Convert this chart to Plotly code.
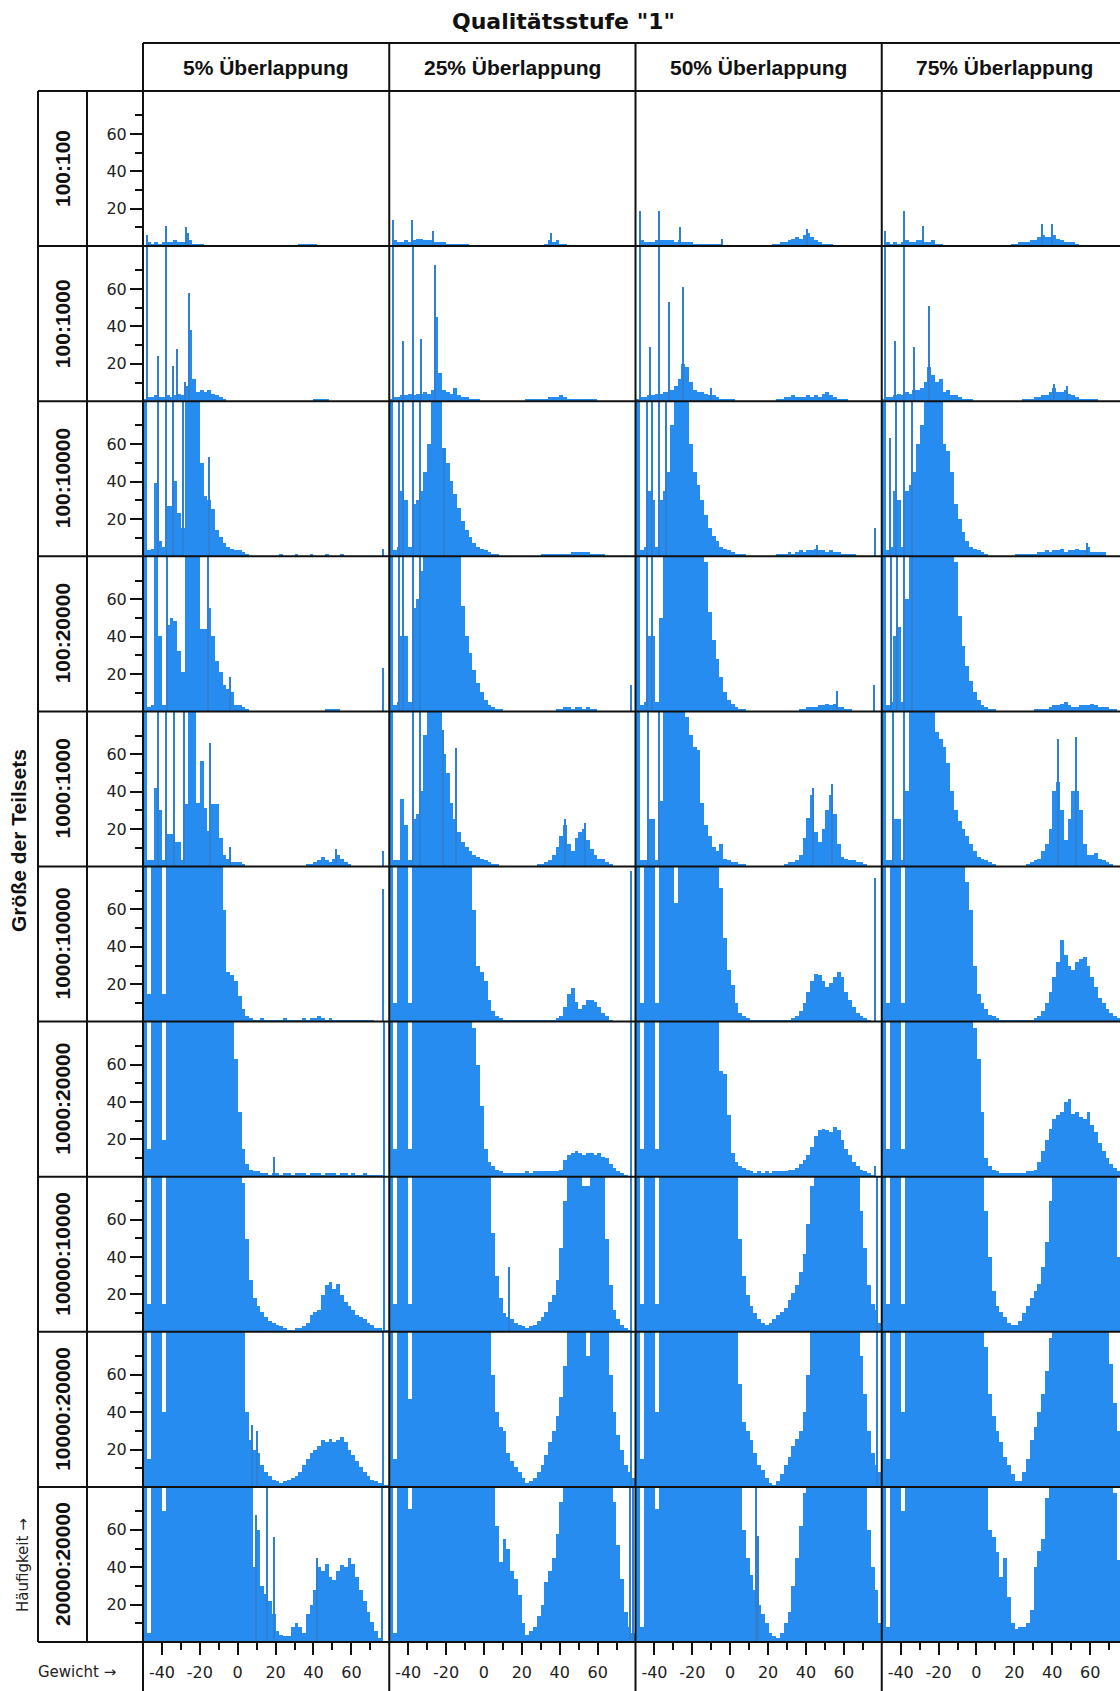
import plotly.graph_objects as go

TITLE = 'Qualitätsstufe "1"'
COL_LABELS = ["5% Überlappung", "25% Überlappung", "50% Überlappung", "75% Überlappung"]
ROW_LABELS = ["100:100", "100:1000", "100:10000", "100:20000", "1000:1000",
              "1000:10000", "1000:20000", "10000:10000", "10000:20000", "20000:20000"]
Y_TITLE = "Größe der Teilsets"
X_NOTE = "Gewicht →"
Y_NOTE = "Häufigkeit →"
BIN_START = -50
BIN_WIDTH = 2
X_TICKS = [-40, -20, 0, 20, 40, 60]
X_TICK_TEXT = ["-40", "-20", "0", "20", "40", "60"]
X_MINOR = [-30, -10, 10, 30, 50, 70]
Y_TICKS = [20, 40, 60]
Y_MINOR = [10, 30, 50, 70]

# ---- histogram heights, 2-unit bins from -50 to 80 (65 bins); values > 83 are clipped ----
R1_C1 = [0,2,1,2,1,2,2,2,3,2, 2,2,3,1,1,1,0,0,0,0, 0,0,0,0,0,0,0,0,0,0, 0,0,0,0,0,0,0,0,0,0, 0,1,1,1,1,1,0,0,0,0, 0,0,0,0,0,0,0,0,0,0, 0,0,0,0,0]
R1_C2 = [0,3,2,2,3,2,3,4,4,3, 3,3,2,2,2,1,1,1,1,1, 1,0,0,0,0,0,0,0,0,0, 0,0,0,0,0,0,0,0,0,0, 0,1,3,2,3,1,1,0,0,0, 0,0,0,0,0,0,0,0,0,0, 0,0,0,0,0]
R1_C3 = [0,3,2,2,2,3,3,3,3,3, 2,3,2,2,2,1,1,1,1,1, 1,1,1,0,0,0,0,0,0,0, 0,0,0,0,0,0,1,1,2,2, 3,4,5,4,6,7,5,3,2,1, 1,1,0,0,0,0,0,0,0,0, 0,0,0,0,0]
R1_C4 = [0,2,1,2,1,2,3,2,2,3, 3,2,2,3,1,1,0,0,0,0, 0,0,0,0,0,0,0,0,0,0, 0,0,0,0,1,1,2,2,2,3, 3,5,6,5,5,6,4,3,2,2, 2,1,0,0,0,0,0,0,0,0, 0,0,0,0,0]

R2_C1 = [1,2,2,3,2,2,3,2,3,4, 3,8,38,12,5,6,5,6,4,3, 2,1,0,0,0,0,0,0,0,0, 0,0,0,0,0,0,0,0,0,0, 0,0,0,0,0,1,1,1,1,0, 0,0,0,0,0,0,0,0,0,0, 0,0,0,0,0]
R2_C2 = [1,2,2,3,3,4,3,4,4,5, 4,6,45,15,6,5,4,7,3,2, 2,1,1,1,0,0,0,0,0,0, 0,0,0,0,0,0,1,1,1,1, 1,1,2,2,2,3,2,1,1,1, 1,1,1,1,1,0,0,0,0,0, 0,0,0,0,0]
R2_C3 = [1,2,2,3,3,4,4,5,5,6, 8,12,20,18,10,6,5,5,4,3, 3,2,1,1,1,1,0,0,0,0, 0,0,0,0,0,0,0,1,1,2, 2,3,2,2,2,3,2,3,2,4, 5,3,2,1,1,1,0,0,0,0, 0,0,0,0,0]
R2_C4 = [1,2,2,3,4,3,5,4,6,6, 7,10,18,14,10,12,5,6,3,3, 2,1,1,1,0,0,0,0,0,0, 0,0,0,0,0,0,0,1,1,1, 2,2,3,3,5,7,5,5,6,4, 3,2,1,1,1,1,1,0,0,0, 0,0,0,0,0]

R3_C1 = [99,3,4,39,8,5,27,27,40,23, 15,99,99,99,99,50,32,30,25,14, 10,7,5,4,3,3,2,1,0,0, 0,0,0,0,0,0,1,0,0,0, 1,0,0,0,1,0,0,0,1,0, 0,0,1,0,0,0,0,0,0,0, 0,0,0,0,0]
R3_C2 = [99,3,5,35,30,5,28,30,35,45, 60,99,99,99,58,50,40,33,26,19, 14,10,7,5,4,3,2,1,1,0, 0,0,0,0,0,0,0,0,0,0, 1,1,1,1,1,1,1,1,2,2, 2,2,2,1,1,1,1,0,0,0, 0,0,0,0,0]
R3_C3 = [99,3,5,35,30,5,30,35,45,70, 99,99,99,99,60,45,38,30,22,15, 11,8,5,4,3,2,1,1,1,0, 0,0,0,0,0,0,0,1,1,1, 2,1,2,3,2,3,3,4,3,3, 2,3,2,2,1,1,1,1,0,0, 0,0,0,0,0]
R3_C4 = [99,3,5,35,30,5,35,38,45,60, 70,99,99,99,99,99,60,56,45,28, 20,13,8,5,4,3,2,1,0,0, 0,0,0,0,0,1,1,1,1,1, 1,2,2,3,2,3,3,4,2,3, 3,4,3,3,5,2,2,2,2,0, 0,0,0,0,0]

R4_C1 = [99,2,3,99,40,3,46,50,48,32, 21,99,99,99,99,44,44,55,40,27, 21,14,12,10,3,3,2,1,0,0, 0,0,0,0,0,0,0,0,0,0, 0,0,0,0,0,0,0,0,1,1, 1,1,0,0,0,0,0,0,0,0, 0,0,0,0,0]
R4_C2 = [99,3,5,40,40,5,55,60,75,99, 99,99,99,99,99,99,99,99,99,56, 40,31,22,15,10,6,3,2,1,1, 0,0,0,0,0,0,0,0,0,0, 0,0,0,0,1,1,2,2,1,2, 2,1,2,1,1,0,0,0,0,0, 0,0,0,0,0]
R4_C3 = [99,3,5,40,40,5,50,99,99,99, 99,99,99,99,99,99,99,99,80,53, 38,28,18,10,6,4,2,1,1,0, 0,0,0,0,0,0,0,0,0,0, 0,0,0,1,1,2,2,2,3,3, 4,3,4,2,2,1,1,0,0,0, 0,0,0,0,0]
R4_C4 = [99,3,5,40,45,5,60,99,99,99, 99,99,99,99,99,99,99,99,99,80, 51,35,24,16,10,6,3,2,1,1, 0,0,0,0,0,0,0,0,0,0, 1,1,1,1,2,3,3,4,5,3, 2,2,3,3,3,4,3,2,2,2, 1,1,0,0,0]

R5_C1 = [99,3,3,42,30,3,17,17,13,13, 3,33,99,99,34,56,31,19,33,33, 15,6,4,2,2,2,1,0,0,0, 0,0,0,0,0,0,0,0,0,0, 0,0,0,1,1,2,3,5,3,2, 4,6,4,2,1,0,0,0,0,0, 0,0,0,0,0]
R5_C2 = [99,3,3,36,22,3,25,28,40,70, 99,99,99,99,60,50,34,25,18,13, 10,8,6,5,4,3,2,1,1,0, 0,0,0,0,0,0,0,0,0,1, 1,2,3,6,10,16,22,12,8,15, 18,20,14,9,6,4,4,2,1,0, 0,0,0,0,0]
R5_C3 = [99,3,3,25,25,3,35,99,99,99, 99,99,99,80,70,64,62,34,22,16, 10,8,12,4,3,2,2,1,1,0, 0,0,0,0,0,0,0,0,0,1, 2,2,3,6,15,26,38,18,13,20, 30,38,28,12,5,4,3,3,2,2, 1,0,0,0,0]
R5_C4 = [99,3,3,25,25,3,40,99,99,99, 99,99,99,99,72,68,64,55,40,30, 24,20,16,12,8,5,4,3,2,1, 0,0,0,0,0,0,0,0,1,2, 3,4,8,12,20,40,45,30,14,25, 40,40,30,12,6,6,7,4,3,2, 1,0,0,0,0]

R6_C1 = [99,15,99,99,99,15,99,99,99,99, 99,99,99,99,99,99,99,99,99,99, 99,60,27,25,22,14,7,3,2,1, 1,2,1,1,1,1,1,2,1,1, 1,1,2,1,2,2,3,2,1,2, 1,1,1,1,1,1,1,1,1,1, 1,0,0,0,0]
R6_C2 = [99,10,99,99,99,10,99,99,99,99, 99,99,99,99,99,99,99,99,99,99, 99,99,60,30,27,22,12,6,3,2, 1,1,1,1,1,1,1,1,1,1, 1,1,1,1,2,3,8,15,18,11, 7,9,12,12,11,8,5,3,1,0, 0,0,0,0,0]
R6_C3 = [99,10,99,99,99,10,99,99,99,99, 64,99,99,99,99,99,99,99,99,99, 99,90,72,45,28,20,10,5,3,2, 1,1,1,1,1,1,1,1,1,1, 1,2,3,6,10,16,22,26,25,22, 19,21,24,27,24,16,12,8,5,3, 2,1,0,0,0]
R6_C4 = [99,10,99,99,99,10,99,99,99,99, 99,99,99,99,99,99,99,99,99,99, 99,99,75,60,30,15,10,7,4,3, 2,1,1,1,1,1,1,1,1,1, 2,3,6,10,16,24,32,44,36,30, 28,32,34,35,30,24,19,13,10,7, 5,3,2,1,0]

R7_C1 = [99,15,99,99,99,20,99,99,99,99, 99,99,99,99,99,99,99,99,99,99, 99,99,99,99,63,35,15,7,4,3, 3,2,2,1,2,2,1,2,2,1, 2,2,2,1,2,2,2,1,2,2, 2,1,2,2,1,2,1,1,2,1, 1,1,1,1,0]
R7_C2 = [99,15,99,99,99,15,99,99,99,99, 99,99,99,99,99,99,99,99,99,99, 99,99,80,60,38,15,8,6,4,3, 2,2,2,2,2,2,3,2,3,3, 3,3,3,3,3,4,9,12,13,14, 13,12,13,13,12,13,11,10,7,5, 3,2,1,0,0]
R7_C3 = [99,15,99,99,99,15,99,99,99,99, 99,99,99,99,99,99,99,99,99,99, 99,99,57,55,33,13,8,6,5,4, 3,2,3,2,3,2,3,3,3,3, 4,4,5,7,9,12,16,22,25,26, 25,24,27,25,20,15,12,8,6,4, 3,2,1,0,0]
R7_C4 = [99,15,99,99,99,15,99,99,99,99, 99,99,99,99,99,99,99,99,99,99, 99,99,99,99,80,63,35,10,6,4, 3,2,2,2,2,2,2,2,3,3, 4,8,14,20,26,31,33,35,40,42, 34,35,32,31,35,28,24,18,14,10, 7,5,3,2,1]

R8_C1 = [99,15,99,99,99,15,99,99,99,99, 99,99,99,99,99,99,99,99,99,99, 99,99,99,99,99,99,80,50,28,18, 14,11,8,6,5,4,3,2,1,1, 2,2,3,5,9,11,12,20,25,27, 23,26,20,16,14,12,9,8,7,5, 4,2,2,1,1]
R8_C2 = [99,15,99,99,99,15,99,99,99,99, 99,99,99,99,99,99,99,99,99,99, 99,99,99,99,99,99,90,53,30,18, 10,8,7,5,4,3,2,3,4,6, 8,11,16,20,28,45,70,99,99,99, 99,78,78,99,99,99,99,50,25,12, 7,4,2,1,0]
R8_C3 = [99,15,99,99,99,15,99,99,99,99, 99,99,99,99,99,99,99,99,99,99, 99,99,99,99,99,99,99,50,30,20, 14,10,7,5,4,5,7,9,11,13, 17,21,25,32,42,58,78,99,99,99, 99,99,99,99,99,99,99,99,99,65, 45,25,15,12,5]
R8_C4 = [99,15,99,99,99,15,99,99,99,99, 99,99,99,99,99,99,99,99,99,99, 99,99,99,99,99,99,99,65,40,22, 14,11,8,5,4,4,6,10,14,18, 22,26,35,48,70,90,99,99,99,99, 99,99,99,99,99,99,99,99,99,99, 99,99,40,30,20]

R9_C1 = [99,15,99,99,99,40,99,99,99,99, 99,99,99,99,99,99,99,99,99,99, 99,99,99,99,99,99,99,40,25,20, 18,12,8,6,4,3,2,3,4,5, 6,8,12,15,18,20,22,25,24,26, 24,25,27,24,20,17,14,11,8,6, 4,3,2,1,1]
R9_C2 = [99,15,99,99,99,47,99,99,99,99, 99,99,99,99,99,99,99,99,99,99, 99,99,99,99,99,99,99,60,40,32, 30,18,14,11,8,5,2,3,5,8, 12,17,24,30,38,48,65,99,99,99, 99,99,70,99,99,99,99,99,60,40, 28,20,12,8,5]
R9_C3 = [99,15,99,99,99,40,99,99,99,99, 99,99,99,99,99,99,99,99,99,99, 99,99,99,99,99,99,99,55,35,30, 25,18,12,9,5,2,1,3,7,12, 16,22,26,30,40,60,85,99,99,99, 99,99,99,99,99,99,99,99,99,70, 50,30,18,12,8]
R9_C4 = [99,15,99,99,99,40,99,99,99,99, 99,99,99,99,99,99,99,99,99,99, 99,99,99,99,99,99,99,75,50,38, 30,24,16,12,7,3,3,8,15,25, 32,40,50,62,80,99,99,99,99,99, 99,99,99,99,99,99,99,99,99,99, 66,45,30,20,15]

R10_C1 = [99,5,99,99,99,70,99,99,99,99, 99,99,99,99,99,99,99,99,99,99, 99,99,99,99,99,99,99,99,85,40, 60,30,26,22,15,6,4,3,3,8, 10,8,5,15,20,28,40,38,42,35, 33,38,41,40,45,42,35,28,22,16, 11,6,2,0,0]
R10_C2 = [99,5,99,99,99,71,99,99,99,99, 99,99,99,99,99,99,99,99,99,99, 99,99,99,99,99,99,99,99,62,43, 55,50,38,34,25,10,4,6,8,14, 20,32,38,45,58,75,99,99,99,99, 99,99,99,99,99,99,99,99,99,75, 52,34,16,8,5]
R10_C3 = [99,8,99,99,99,71,99,99,99,99, 99,99,99,99,99,99,99,99,99,99, 99,99,99,99,99,99,99,99,60,45, 36,28,20,15,10,5,3,2,5,10, 16,30,45,62,80,99,99,99,99,99, 99,99,99,99,99,99,99,99,99,99, 99,60,40,28,10]
R10_C4 = [99,8,99,99,99,70,99,99,99,99, 99,99,99,99,99,99,99,99,99,99, 99,99,99,99,99,99,99,99,60,56, 48,35,45,24,10,7,8,8,10,17, 40,49,55,77,90,99,99,99,99,99, 99,99,99,99,99,99,99,99,99,99, 99,80,44,30,20]

# ---- single tall narrow bins (spikes): positions and heights ----
S1_C1_X = [-48, -38, -27, -26];                    S1_C1_Y = [6, 11, 10, 7]
S1_C2_X = [-47.8, -37.6, -26.6, 35.5];             S1_C2_Y = [14, 14, 8, 7]
S1_C3_X = [-47.8, -37.7, -26.5, -4.6, 40.5];       S1_C3_Y = [19, 19, 10, 4, 9]
S1_C4_X = [-48.3, -38.4, -28.5, 34.5, 39.8];       S1_C4_Y = [8, 19, 11, 12, 12]
S2_C1_X = [-48, -42, -37.8, -34, -32, -28, -25.8]; S2_C1_Y = [99, 24, 99, 19, 28, 10, 58]
S2_C2_X = [-48, -42.7, -37.5, -32.8, -25.5];       S2_C2_Y = [99, 32, 99, 33, 73]
S2_C3_X = [-48, -42.7, -37.8, -32.5, -25, -10.4];  S2_C3_Y = [99, 29, 99, 53, 61, 7]
S2_C4_X = [-48.3, -43, -38.4, -33.2, -25.2, 41, 48]; S2_C4_Y = [99, 32, 99, 29, 51, 9, 8]
S3_C1_X = [-42.2, -37.6, -34.3, -29, -15, 77];     S3_C1_Y = [99, 99, 99, 99, 53, 4]
S3_C2_X = [-44.4, -42.7, -37.5, -33.5, -21];       S3_C2_Y = [99, 99, 99, 99, 58]
S3_C3_X = [-44, -41.4, -37.8, -34.1, 45.4, 76];    S3_C3_Y = [99, 99, 99, 99, 6, 15]
S3_C4_X = [-45.7, -42.4, -38.4, -34.2, 58.5];      S3_C4_Y = [63, 99, 99, 99, 7]
S4_C1_X = [-37, -15.4, -4, 77];                    S4_C1_Y = [99, 99, 18, 23]
S4_C2_X = [-44.5, -42.7, -37.5, -33.5, 77.7];      S4_C2_Y = [99, 99, 99, 99, 14]
S4_C3_X = [-44, -41.4, 56.3, 75.5];                S4_C3_Y = [99, 99, 11, 14]
S4_C4_X = [-45, -42, -38.4, -34];                  S4_C4_Y = [99, 99, 99, 99]
S5_C1_X = [-42, -37.7, -33.5, -28.5, -14.5, -4, 52, 77]; S5_C1_Y = [99, 99, 99, 99, 66, 10, 9, 8]
S5_C2_X = [-37.5, -33.8, -21.3, -14.7, 43.1, 53.6]; S5_C2_Y = [99, 99, 73, 63, 25, 23]
S5_C3_X = [-43.7, -37.8, 43.4, 53.3];              S5_C3_Y = [99, 99, 42, 44]
S5_C4_X = [-44, -38.4, 43, 52.5];                  S5_C4_Y = [99, 99, 68, 69]
S6_C1_X = [77];    S6_C1_Y = [71]
S6_C2_X = [77.7];  S6_C2_Y = [81]
S6_C3_X = [76];    S6_C3_Y = [77]
S6_C4_X = [];      S6_C4_Y = []
S7_C1_X = [19.3, 77.5]; S7_C1_Y = [11, 99]
S7_C2_X = [77.7];  S7_C2_Y = [99]
S7_C3_X = [76.5];  S7_C3_Y = [6]
S7_C4_X = [];      S7_C4_Y = []
S8_C1_X = [77.5];  S8_C1_Y = [99]
S8_C2_X = [13.3, 77.7]; S8_C2_Y = [35, 99]
S8_C3_X = [77.5];  S8_C3_Y = [99]
S8_C4_X = [];      S8_C4_Y = []
S9_C1_X = [7.5, 10.5, 77]; S9_C1_Y = [33, 30, 99]
S9_C2_X = [77.7];  S9_C2_Y = [99]
S9_C3_X = [77.5];  S9_C3_Y = [99]
S9_C4_X = [];      S9_C4_Y = []
S10_C1_X = [10, 15.5, 19, 42, 76.5]; S10_C1_Y = [68, 99, 56, 45, 99]
S10_C2_X = [77.5, 79]; S10_C2_Y = [99, 99]
S10_C3_X = [13.5, 14.5]; S10_C3_Y = [99, 57]
S10_C4_X = [];     S10_C4_Y = []

HIST = [
    [R1_C1, R1_C2, R1_C3, R1_C4], [R2_C1, R2_C2, R2_C3, R2_C4],
    [R3_C1, R3_C2, R3_C3, R3_C4], [R4_C1, R4_C2, R4_C3, R4_C4],
    [R5_C1, R5_C2, R5_C3, R5_C4], [R6_C1, R6_C2, R6_C3, R6_C4],
    [R7_C1, R7_C2, R7_C3, R7_C4], [R8_C1, R8_C2, R8_C3, R8_C4],
    [R9_C1, R9_C2, R9_C3, R9_C4], [R10_C1, R10_C2, R10_C3, R10_C4],
]
SPIKES = [
    [(S1_C1_X, S1_C1_Y), (S1_C2_X, S1_C2_Y), (S1_C3_X, S1_C3_Y), (S1_C4_X, S1_C4_Y)],
    [(S2_C1_X, S2_C1_Y), (S2_C2_X, S2_C2_Y), (S2_C3_X, S2_C3_Y), (S2_C4_X, S2_C4_Y)],
    [(S3_C1_X, S3_C1_Y), (S3_C2_X, S3_C2_Y), (S3_C3_X, S3_C3_Y), (S3_C4_X, S3_C4_Y)],
    [(S4_C1_X, S4_C1_Y), (S4_C2_X, S4_C2_Y), (S4_C3_X, S4_C3_Y), (S4_C4_X, S4_C4_Y)],
    [(S5_C1_X, S5_C1_Y), (S5_C2_X, S5_C2_Y), (S5_C3_X, S5_C3_Y), (S5_C4_X, S5_C4_Y)],
    [(S6_C1_X, S6_C1_Y), (S6_C2_X, S6_C2_Y), (S6_C3_X, S6_C3_Y), (S6_C4_X, S6_C4_Y)],
    [(S7_C1_X, S7_C1_Y), (S7_C2_X, S7_C2_Y), (S7_C3_X, S7_C3_Y), (S7_C4_X, S7_C4_Y)],
    [(S8_C1_X, S8_C1_Y), (S8_C2_X, S8_C2_Y), (S8_C3_X, S8_C3_Y), (S8_C4_X, S8_C4_Y)],
    [(S9_C1_X, S9_C1_Y), (S9_C2_X, S9_C2_Y), (S9_C3_X, S9_C3_Y), (S9_C4_X, S9_C4_Y)],
    [(S10_C1_X, S10_C1_Y), (S10_C2_X, S10_C2_Y), (S10_C3_X, S10_C3_Y), (S10_C4_X, S10_C4_Y)],
]

# ---------------- layout geometry (pixels) ----------------
W, H = 1120, 1691
PLOT_L = 143.0
COL_W = 246.25
ROW_T = 91.0
ROW_H = 155.1
X_MIN, X_MAX = -50, 80
Y_MAX = 83
PX_PER_UNIT = COL_W / (X_MAX - X_MIN)
BAR_COLOR = "#268cf0"
SPIKE_COLOR = "#2f7fd2"
LINE_COLOR = "#111111"
FONT = "Liberation Sans"
TICK_FONT = dict(family="DejaVu Sans", size=16, color="#222222")

def px(xp):
    return xp / W

def py(yp):
    return 1 - yp / H

fig = go.Figure()
n_rows, n_cols = len(HIST), len(HIST[0])
layout_axes = {}
k = 0
for r in range(n_rows):
    for c in range(n_cols):
        k += 1
        xs = "" if k == 1 else str(k)
        left = PLOT_L + c * COL_W
        right = min(left + COL_W, W)
        x_hi = X_MIN + (right - left) / PX_PER_UNIT
        top = ROW_T + r * ROW_H
        bot = top + ROW_H
        heights = HIST[r][c]
        centers = [BIN_START + BIN_WIDTH * (i + 0.5) for i in range(len(heights))]
        fig.add_trace(go.Bar(x=centers, y=heights, width=BIN_WIDTH,
                             marker=dict(color=BAR_COLOR, line=dict(width=0)),
                             xaxis="x" + xs, yaxis="y" + xs, showlegend=False,
                             hoverinfo="skip"))
        sx, sy = SPIKES[r][c]
        if sx:
            fig.add_trace(go.Bar(x=sx, y=sy, width=0.7,
                                 marker=dict(color=SPIKE_COLOR, line=dict(width=0)),
                                 xaxis="x" + xs, yaxis="y" + xs, showlegend=False,
                                 hoverinfo="skip"))
        xa = dict(domain=[px(left), px(right)], range=[X_MIN, x_hi], anchor="y" + xs,
                  showgrid=False, zeroline=False, showline=False, fixedrange=True)
        if r == n_rows - 1:
            xa.update(tickmode="array", tickvals=X_TICKS, ticktext=X_TICK_TEXT,
                      ticks="outside", ticklen=12, tickwidth=1.5, tickcolor=LINE_COLOR,
                      tickfont=TICK_FONT, ticklabelstandoff=4,
                      minor=dict(tickvals=X_MINOR, ticks="outside", ticklen=7,
                                 tickwidth=1.5, tickcolor=LINE_COLOR))
        else:
            xa.update(showticklabels=False, ticks="")
        ya = dict(domain=[py(bot), py(top)], range=[0, Y_MAX], anchor="x" + xs,
                  showgrid=False, zeroline=False, showline=False, fixedrange=True)
        if c == 0:
            ya.update(tickmode="array", tickvals=Y_TICKS, ticks="outside", ticklen=12,
                      tickwidth=1.5, tickcolor=LINE_COLOR, tickfont=TICK_FONT,
                      minor=dict(tickvals=Y_MINOR, ticks="outside", ticklen=7,
                                 tickwidth=1.5, tickcolor=LINE_COLOR))
        else:
            ya.update(showticklabels=False, ticks="")
        layout_axes["xaxis" + xs] = xa
        layout_axes["yaxis" + xs] = ya

# ---------------- frame lines ----------------
shapes = []
def hline(y, x0, x1):
    shapes.append(dict(type="line", xref="paper", yref="paper", x0=px(x0), x1=px(x1),
                       y0=py(y), y1=py(y), line=dict(color=LINE_COLOR, width=2)))
def vline(x, y0, y1):
    shapes.append(dict(type="line", xref="paper", yref="paper", x0=px(x), x1=px(x),
                       y0=py(y0), y1=py(y1), line=dict(color=LINE_COLOR, width=2)))

GRID_BOTTOM = ROW_T + n_rows * ROW_H
hline(43, PLOT_L, W)
for r in range(n_rows + 1):
    hline(ROW_T + r * ROW_H, 38, W)
vline(38, ROW_T, GRID_BOTTOM)
vline(87, ROW_T, GRID_BOTTOM)
for c in range(n_cols):
    vline(PLOT_L + c * COL_W, 43, H)

# ---------------- texts ----------------
def note(text, x, y, size, family, angle=0, color="#111"):
    return dict(text=text, x=px(x), y=py(y), xref="paper", yref="paper",
                xanchor="center", yanchor="middle", showarrow=False, textangle=angle,
                font=dict(family=family, size=size, color=color))

ann = [note("<b>" + TITLE + "</b>", 563, 21, 22, "DejaVu Sans")]
for c, lab in enumerate(COL_LABELS):
    ann.append(note("<b>" + lab + "</b>", PLOT_L + c * COL_W + COL_W / 2, 67, 21, FONT))
for r, lab in enumerate(ROW_LABELS):
    ann.append(note("<b>" + lab + "</b>", 62.5, ROW_T + r * ROW_H + ROW_H / 2, 21, FONT, -90))
ann.append(note("<b>" + Y_TITLE + "</b>", 19, 841, 21, FONT, -90))
ann.append(note(Y_NOTE, 23, 1565, 15, "DejaVu Sans", -90, "#222"))
ann.append(note(X_NOTE, 77, 1672, 15, "DejaVu Sans", 0, "#222"))

fig.update_layout(width=W, height=H, margin=dict(l=0, r=0, t=0, b=0),
                  paper_bgcolor="white", plot_bgcolor="white", barmode="overlay",
                  bargap=0, showlegend=False, shapes=shapes, annotations=ann,
                  **layout_axes)
fig.write_html("out.html", config={"displayModeBar": False})
